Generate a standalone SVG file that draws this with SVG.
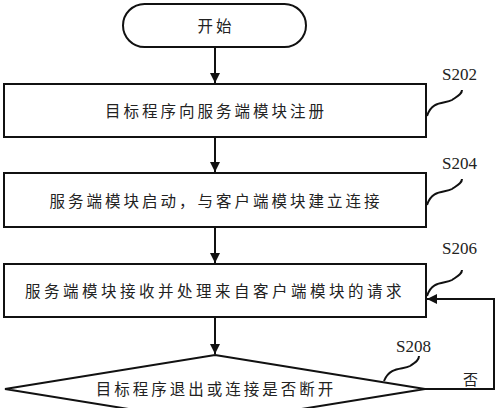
<svg xmlns="http://www.w3.org/2000/svg" width="500" height="408" viewBox="0 0 500 408">
<style>
.shape{fill:#fff;stroke:#111;stroke-width:2}
.line{fill:none;stroke:#111;stroke-width:2}
.cn{font-family:"Noto Sans CJK SC",sans-serif;font-size:15.5px;fill:#222;letter-spacing:3px;text-anchor:middle;dominant-baseline:central}
.lbl{font-family:"Liberation Serif",serif;font-size:17px;fill:#222}
</style>
<defs>
<marker id="ah" viewBox="0 0 10 10" refX="10" refY="5" markerWidth="10" markerHeight="10" markerUnits="userSpaceOnUse" orient="auto">
<path d="M0,0 L10,5 L0,10 z" fill="#111"/>
</marker>
</defs>
<g id="connectors">
<line class="line" x1="215" y1="47" x2="215" y2="83" marker-end="url(#ah)"/>
<line class="line" x1="215" y1="137" x2="215" y2="172" marker-end="url(#ah)"/>
<line class="line" x1="215" y1="227" x2="215" y2="263" marker-end="url(#ah)"/>
<line class="line" x1="215" y1="317" x2="215" y2="354" marker-end="url(#ah)"/>
<polyline class="line" points="425,389 494,389 494,299 427,299" marker-end="url(#ah)"/>
<text x="463" y="385" style="font-family:'Noto Sans CJK SC',sans-serif;font-size:15px;fill:#222">否</text>
</g>
<g id="start">
<rect class="shape" x="123" y="4" width="183" height="43" rx="21.5"/>
<text class="cn" x="216" y="25">开始</text>
</g>
<g id="s202">
<rect class="shape" x="4" y="84" width="422" height="53"/>
<text class="cn" x="216" y="110">目标程序向服务端模块注册</text>
<path class="line" d="M427,116 C432,100 445,104 452,100 C458,96 462,94 462,90"/>
<text class="lbl" x="442" y="80">S202</text>
</g>
<g id="s204">
<rect class="shape" x="4" y="173" width="422" height="54"/>
<text class="cn" x="216" y="200">服务端模块启动，与客户端模块建立连接</text>
<path class="line" d="M427,205 C432,189 445,193 452,189 C458,185 462,183 462,179"/>
<text class="lbl" x="442" y="169">S204</text>
</g>
<g id="s206">
<rect class="shape" x="4" y="264" width="422" height="53"/>
<text class="cn" x="215" y="290" style="letter-spacing:3.5px">服务端模块接收并处理来自客户端模块的请求</text>
<path class="line" d="M427,296 C432,280 445,284 452,280 C458,276 462,274 462,270"/>
<text class="lbl" x="442" y="254">S206</text>
</g>
<g id="s208">
<polygon class="shape" points="215,355 425,389 215,423 5,389"/>
<text class="cn" x="216" y="388">目标程序退出或连接是否断开</text>
<path class="line" d="M384,381 C390,366 403,370 410,366 C416,362 419,360 419,356"/>
<text class="lbl" x="396" y="352">S208</text>
</g>
</svg>
